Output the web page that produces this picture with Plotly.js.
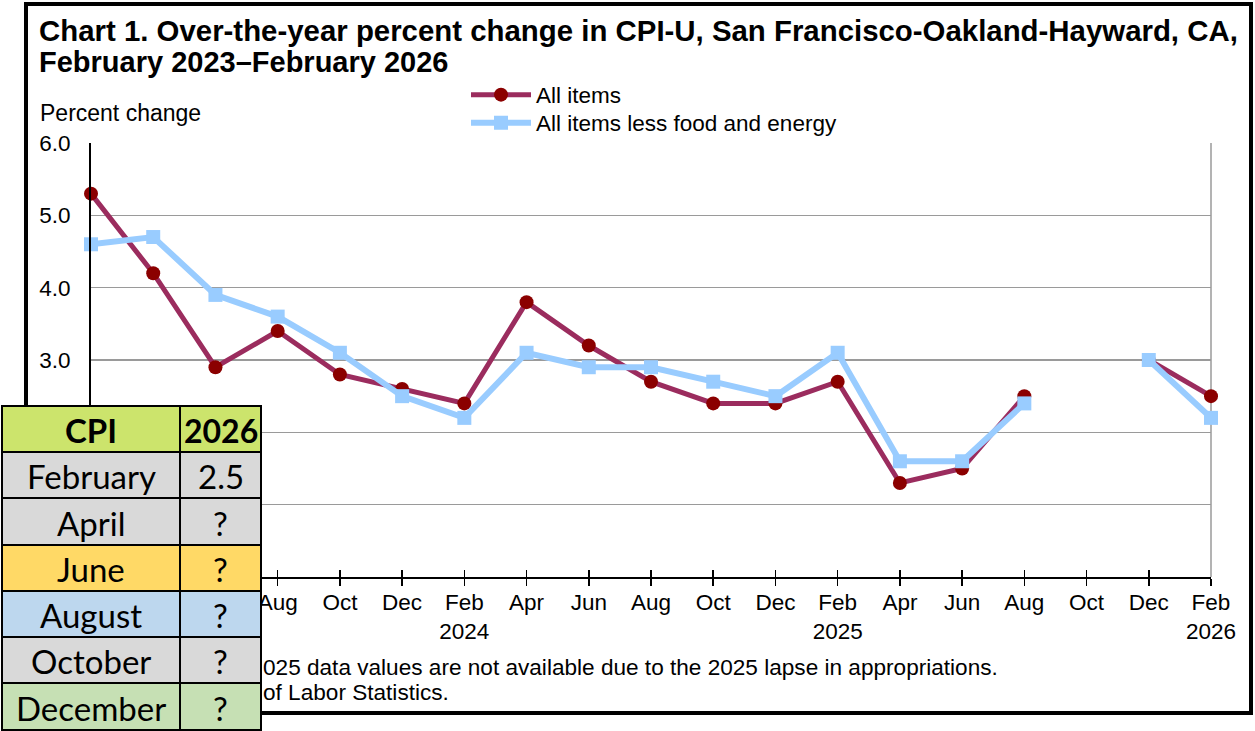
<!DOCTYPE html>
<html>
<head>
<meta charset="utf-8">
<script src="https://cdn.plot.ly/plotly-3.0.1.min.js"></script>
<style>html,body{margin:0;padding:0;background:#fff;}#chart{width:1255px;height:731px;}</style>
</head>
<body>
<div id="chart"></div>
<script>
// ---- data ----
const periodLabels = ["Feb<br>2023","Apr","Jun","Aug","Oct","Dec","Feb<br>2024","Apr","Jun","Aug","Oct","Dec","Feb<br>2025","Apr","Jun","Aug","Oct","Dec","Feb<br>2026"];
const allItems = [5.3,4.2,2.9,3.4,2.8,2.6,2.4,3.8,3.2,2.7,2.4,2.4,2.7,1.3,1.5,2.5,null,3.0,2.5];
const coreItems = [4.6,4.7,3.9,3.6,3.1,2.5,2.2,3.1,2.9,2.9,2.7,2.5,3.1,1.6,1.6,2.4,null,3.0,2.2];
const seriesNames = ["All items","All items less food and energy"];
const yTickVals = [0, 1, 2, 3, 4, 5, 6];
const titleLines = ["Chart 1. Over-the-year percent change in CPI-U, San Francisco-Oakland-Hayward, CA,", "February 2023\u2013February 2026"];
const footnoteVisible = ["025 data values are not available due to the 2025 lapse in appropriations.", "of Labor Statistics."];
const tableHeader = ["CPI","2026"];
const tableMonths = ["February","April","June","August","October","December"];
const tableValues = ["2.5","?","?","?","?","?"];
const headerColor = "#CCE46C";
const rowColors = ["#D9D9D9","#D9D9D9","#FFD966","#BDD7EE","#D9D9D9","#C6E0B4"];

// ---- layout helpers (pixel -> paper) ----
const W = 1255, H = 731;
const px = x => x / W;
const py = y => 1 - y / H;
const idx = periodLabels.map((_, i) => i);
const FONT = "Liberation Sans, Arial, sans-serif";
const TFONT = "Lato, Carlito, sans-serif";
// tick labels that sit under the overlaid table in the reference are not shown
const shownTicks = periodLabels.map((t, i) => (i < 3 ? "" : t));
const shownYTicks = yTickVals.map(v => (v < 3 ? "" : v.toFixed(1)));

const traces = [
  {
    x: idx, y: allItems, name: seriesNames[0], type: "scatter", mode: "lines+markers",
    line: {color: "#9B2C5E", width: 5}, marker: {color: "#8B0000", size: 14, symbol: "circle"},
    cliponaxis: false, connectgaps: false, legend: "legend"
  },
  {
    x: idx, y: coreItems, name: seriesNames[1], type: "scatter", mode: "lines+markers",
    line: {color: "#99CCFF", width: 6}, marker: {color: "#99CCFF", size: 14, symbol: "square"},
    cliponaxis: false, connectgaps: false, legend: "legend2"
  },
  {
    x: [0, 18], y: [null, null], xaxis: "x2", yaxis: "y", type: "scatter", mode: "lines",
    showlegend: false, hoverinfo: "skip"
  }
];

// ---- overlaid table (shapes + text) ----
const colX = [2, 180, 261];
const rowY = [406, 452, 498, 545, 591, 637, 683, 730];
const shapes = [
  {type: "rect", xref: "paper", yref: "paper", x0: px(26), x1: px(1251), y0: py(713), y1: py(4),
   line: {color: "#000", width: 4}, fillcolor: "rgba(0,0,0,0)", layer: "below"},
  {type: "line", xref: "paper", yref: "paper", x0: px(1211), x1: px(1211), y0: py(577), y1: py(143),
   line: {color: "#9A9A9A", width: 1.5}, layer: "below"}
];
const tableAnn = [];
const allRows = [[tableHeader[0], tableHeader[1]]].concat(tableMonths.map((m, i) => [m, tableValues[i]]));
const allFills = [headerColor].concat(rowColors);
allRows.forEach((row, r) => {
  for (let c = 0; c < 2; c++) {
    shapes.push({type: "rect", xref: "paper", yref: "paper",
      x0: px(colX[c]), x1: px(colX[c + 1]), y0: py(rowY[r + 1]), y1: py(rowY[r]),
      fillcolor: allFills[r], line: {color: "#000", width: 2}, layer: "above"});
    tableAnn.push({text: r === 0 ? "<b>" + row[c] + "</b>" : row[c], xref: "paper", yref: "paper",
      x: px((colX[c] + colX[c + 1]) / 2), y: py((rowY[r] + rowY[r + 1]) / 2 + 1),
      xanchor: "center", yanchor: "middle", showarrow: false,
      font: {family: TFONT, size: r === 0 && c === 1 ? 32 : 33, color: "#000"}});
  }
});

const layout = {
  width: W, height: H,
  margin: {l: 0, r: 0, t: 0, b: 0},
  paper_bgcolor: "#fff", plot_bgcolor: "#fff",
  font: {family: FONT, color: "#000", size: 23},
  showlegend: true,
  legend: {
    x: px(466), y: py(95), xanchor: "left", yanchor: "middle",
    bgcolor: "rgba(0,0,0,0)", font: {family: FONT, size: 22.5, color: "#000"}, itemwidth: 60
  },
  legend2: {
    x: px(466), y: py(123), xanchor: "left", yanchor: "middle",
    bgcolor: "rgba(0,0,0,0)", font: {family: FONT, size: 22.5, color: "#000"}, itemwidth: 60
  },
  xaxis: {
    domain: [px(91), px(1211)], range: [0, 18], tickvals: idx, ticktext: shownTicks,
    showgrid: false, zeroline: false, showline: true, linecolor: "#000", linewidth: 2,
    ticks: "outside", ticklen: 7, tickcolor: "#000", tickwidth: 1.5, ticklabelstandoff: -3,
    tickfont: {family: FONT, size: 22.5, color: "#000"}, tickangle: 0, fixedrange: true
  },
  xaxis2: {
    domain: [px(91), px(1211)], range: [0, 18], overlaying: "x", anchor: "y", tickvals: idx,
    showticklabels: false, showgrid: false, zeroline: false, showline: false,
    ticks: "inside", ticklen: 7, tickcolor: "#000", tickwidth: 1.5
  },
  yaxis: {
    domain: [py(577), py(143)], range: [0, 6], tickvals: yTickVals, ticktext: shownYTicks,
    showgrid: true, gridcolor: "#9A9A9A", gridwidth: 1.2, zeroline: false,
    showline: true, linecolor: "#000", linewidth: 2, ticks: "", ticklabelstandoff: 14,
    tickfont: {family: FONT, size: 22.5, color: "#000"}, fixedrange: true
  },
  shapes: shapes,
  annotations: [
    {text: "<b>" + titleLines[0] + "</b>", xref: "paper", yref: "paper", x: px(37), y: py(30), xanchor: "left", yanchor: "middle",
     showarrow: false, font: {family: FONT, size: 29.4, color: "#000"}},
    {text: "<b>" + titleLines[1] + "</b>", xref: "paper", yref: "paper", x: px(37), y: py(62), xanchor: "left", yanchor: "middle",
     showarrow: false, font: {family: FONT, size: 29, color: "#000"}},
    {text: "Percent change", xref: "paper", yref: "paper", x: px(38), y: py(113), xanchor: "left", yanchor: "middle",
     showarrow: false, font: {family: FONT, size: 23, color: "#000"}},
    {text: footnoteVisible[0], xref: "paper", yref: "paper",
     x: px(261), y: py(667), xanchor: "left", yanchor: "middle", showarrow: false,
     font: {family: FONT, size: 22.6, color: "#000"}},
    {text: footnoteVisible[1], xref: "paper", yref: "paper",
     x: px(261), y: py(692), xanchor: "left", yanchor: "middle", showarrow: false,
     font: {family: FONT, size: 22.6, color: "#000"}}
  ].concat(tableAnn)
};

Plotly.newPlot("chart", traces, layout, {displayModeBar: false, staticPlot: true});
</script>
</body>
</html>
